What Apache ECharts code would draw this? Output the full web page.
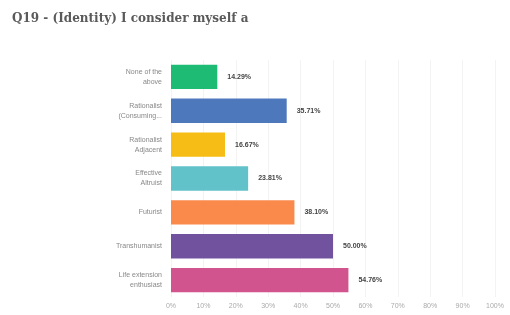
<!DOCTYPE html>
<html>
<head>
<meta charset="utf-8">
<script src="https://cdn.jsdelivr.net/npm/echarts@6/dist/echarts.min.js"></script>
<style>
  html, body { margin: 0; padding: 0; background: #fff; }
  #chart { width: 510px; height: 315px; }
</style>
</head>
<body>
<div id="chart"></div>
<script>
const categories = [
  'None of the\nabove',
  'Rationalist\n(Consuming...',
  'Rationalist\nAdjacent',
  'Effective\nAltruist',
  'Futurist',
  'Transhumanist',
  'Life extension\nenthusiast'
];
const values = [14.29, 35.71, 16.67, 23.81, 38.10, 50.00, 54.76];
const barColors = ['#1dbb73', '#4e78bc', '#f6bd16', '#62c2c9', '#fa8a4c', '#71529f', '#d2548f'];
const xTicks = [0, 10, 20, 30, 40, 50, 60, 70, 80, 90, 100];

const chart = echarts.init(document.getElementById('chart'));
const option = {
  animation: false,
  title: {
    text: 'Q19 - (Identity) I consider myself a',
    left: 7,
    top: 8,
    textStyle: {
      fontFamily: 'DejaVu Serif',
      fontSize: 12,
      fontWeight: 'bold',
      color: '#5a5a5a'
    }
  },
  grid: {
    left: 171,
    right: 15,
    top: 60,
    bottom: 18
  },
  xAxis: {
    type: 'value',
    min: xTicks[0],
    max: xTicks[xTicks.length - 1],
    interval: 10,
    axisLine: { show: false },
    axisTick: { show: false },
    axisLabel: {
      color: '#aaa',
      fontSize: 7,
      margin: 6,
      formatter: '{value}%'
    },
    splitLine: { lineStyle: { color: '#f3f3f3', width: 1 } }
  },
  yAxis: {
    type: 'category',
    inverse: true,
    data: categories,
    axisLine: { show: false },
    axisTick: { show: false },
    axisLabel: {
      color: '#888',
      fontSize: 7,
      lineHeight: 10,
      margin: 9
    }
  },
  series: [{
    type: 'bar',
    barCategoryGap: '28%',
    data: values.map((v, i) => ({ value: v, itemStyle: { color: barColors[i] } })),
    label: {
      show: true,
      position: 'right',
      distance: 10,
      color: '#444',
      fontSize: 7,
      fontWeight: 'bold',
      formatter: p => p.value.toFixed(2) + '%'
    },
    markLine: {
      silent: true,
      symbol: 'none',
      label: { show: false },
      lineStyle: { color: '#eee', type: 'solid', width: 1 },
      data: [{ yAxis: categories.length - 0.5 }]
    }
  }]
};
chart.setOption(option);
</script>
</body>
</html>
